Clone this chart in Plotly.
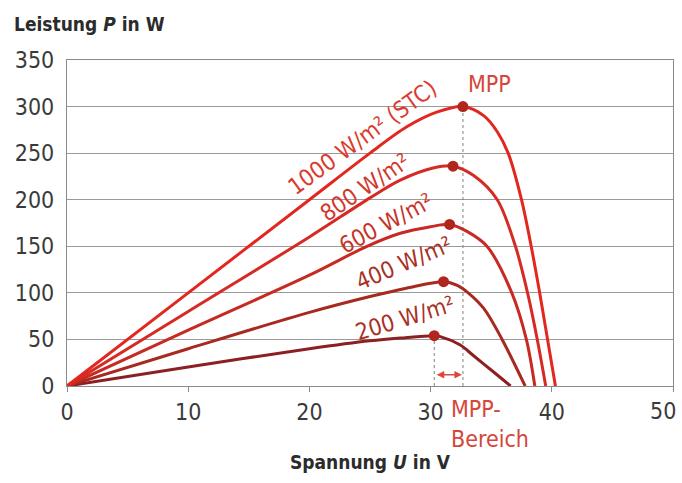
import plotly.graph_objects as go

# ---- data ----
labels = ["1000 W/m² (STC)", "800 W/m²", "600 W/m²", "400 W/m²", "200 W/m²"]

v_1000 = [0, 10, 20, 25, 28, 30.5, 32.67, 34.4, 35.5, 36.4, 37.5, 38.3, 39.0, 39.65, 40.3]
p_1000 = [0, 100, 200, 250, 278, 294, 300, 290, 273, 250, 200, 150, 100, 50, 0]

v_800 = [0, 10, 20, 25, 27.5, 30.2, 31.85, 33.55, 35.5, 37.0, 38.0, 38.8, 39.5]
p_800 = [0, 80, 160, 202, 221, 234, 236, 226, 200, 150, 100, 50, 0]

v_600 = [0, 10, 20, 24.75, 27.5, 30.0, 31.57, 33.0, 34.65, 36.7, 37.9, 38.6]
p_600 = [0, 60, 119, 150, 164, 171, 173.5, 166, 150, 100, 50, 0]

v_400 = [0, 10, 20, 25, 28, 31.07, 32.2, 33.1, 34.4, 35.9, 37.8]
p_400 = [0, 40, 79, 96, 105, 112, 108, 100, 83, 50, 0]

v_200 = [0, 10, 20, 25, 27.5, 30.3, 30.8, 32.45, 33.5, 35.2, 36.6]
p_200 = [0, 20.5, 40, 48.5, 51.5, 54, 53, 44, 33, 15, 0]

mpp_v = [32.67, 31.85, 31.57, 31.07, 30.3]
mpp_p = [300, 236, 173.5, 112, 54]

x_ticks = [0, 10, 20, 30, 40, 50]
x_tick_labels = ["0", "10", "20", "30", "40", "50"]
y_ticks = [0, 50, 100, 150, 200, 250, 300, 350]

colors = ["#e2271f", "#d62a24", "#c62a22", "#a8291f", "#8c1f22"]
label_colors = ["#dc3a2e", "#d2372c", "#c63328", "#a83024", "#a83024"]

series_v = [v_1000, v_800, v_600, v_400, v_200]
series_p = [p_1000, p_800, p_600, p_400, p_200]

FONT = "DejaVu Sans Condensed, Liberation Sans Narrow, Liberation Sans, sans-serif"
TICKFONT = dict(family=FONT, size=23, color="#3a3a3a")

fig = go.Figure()

# dashed guide lines (MPP range)
for i in (0, 4):
    fig.add_trace(go.Scatter(x=[mpp_v[i], mpp_v[i]], y=[0, mpp_p[i]], mode="lines",
                             line=dict(color="#808080", width=1, dash="3px,3px"),
                             hoverinfo="skip", showlegend=False))

# curves (draw smallest first)
for i in reversed(range(5)):
    fig.add_trace(go.Scatter(x=series_v[i], y=series_p[i], mode="lines",
                             line=dict(color=colors[i], width=3, shape="spline", smoothing=0.9),
                             showlegend=False, name=labels[i]))

fig.add_trace(go.Scatter(x=mpp_v, y=mpp_p, mode="markers",
                         marker=dict(color="#b0261e", size=11),
                         showlegend=False))

# curve labels
lab_pos = [(24.4, 267, -36), (24.6, 213.5, -34), (26.35, 175, -28), (27.8, 132, -23), (27.9, 73, -17)]
for i, (x, y, a) in enumerate(lab_pos):
    fig.add_annotation(x=x, y=y, text=labels[i], textangle=a, showarrow=False,
                       font=dict(family=FONT, size=23, color=label_colors[i]),
                       xanchor="center", yanchor="middle")

fig.add_annotation(x=34.9, y=324, text="MPP", showarrow=False,
                   font=dict(family=FONT, size=23, color="#d4473a"))
fig.add_annotation(x=31.55, xref="x", y=-0.025, yref="paper", text="MPP-<br>Bereich",
                   showarrow=False, align="left", xanchor="left", yanchor="top",
                   font=dict(family=FONT, size=23, color="#d4473a"))

# double arrow for MPP range
fig.add_annotation(x=mpp_v[0], y=12, ax=mpp_v[4], ay=12, xref="x", yref="y", axref="x", ayref="y",
                   text="", showarrow=True, arrowhead=2, startarrowhead=2, arrowside="end+start",
                   arrowsize=1, startarrowsize=1, arrowwidth=1.5, arrowcolor="#e0443a",
                   standoff=1, startstandoff=1)

# last x tick label kept inside the page (right-aligned at the axis end, as in the reference)
fig.add_annotation(x=x_ticks[-1], xref="x", y=-0.077, yref="paper", text=x_tick_labels[-1],
                   showarrow=False, xanchor="right", yanchor="middle", xshift=5, font=TICKFONT)

fig.add_annotation(xref="paper", yref="paper", x=-0.0908, y=1.11, xanchor="left", yanchor="middle",
                   text="<b>Leistung <i>P</i> in W</b>", showarrow=False,
                   font=dict(family=FONT, size=19, color="#2b2b2b"))
fig.add_annotation(xref="paper", yref="paper", x=0.5, y=-0.233, xanchor="center", yanchor="middle",
                   text="<b>Spannung <i>U</i> in V</b>", showarrow=False,
                   font=dict(family=FONT, size=19, color="#2b2b2b"))

fig.update_xaxes(range=[0, 50], tickvals=x_ticks, ticktext=x_tick_labels[:-1] + [""], showgrid=False,
                 zeroline=False, automargin=False,
                 showline=True, linecolor="#8a8a8a", linewidth=1.2, mirror=True,
                 ticks="outside", ticklen=5, tickcolor="#8a8a8a", ticklabeloverflow="allow",
                 tickfont=TICKFONT)
fig.update_yaxes(range=[0, 350], tickvals=y_ticks, showgrid=True, gridcolor="#9a9a9a", gridwidth=1.2,
                 zeroline=False, showline=True, linecolor="#8a8a8a", linewidth=1.2, mirror=True,
                 ticks="", ticklabelstandoff=7, automargin=False, ticklabeloverflow="allow",
                 tickfont=TICKFONT)

fig.update_layout(width=682, height=483, margin=dict(l=67, r=9, t=60, b=97),
                  paper_bgcolor="white", plot_bgcolor="white")

# remove the default page margin so the figure fills the window exactly
fig.write_html("out.html", config={"displayModeBar": False},
               post_script="document.body.style.margin='0';document.body.style.overflow='hidden';")
